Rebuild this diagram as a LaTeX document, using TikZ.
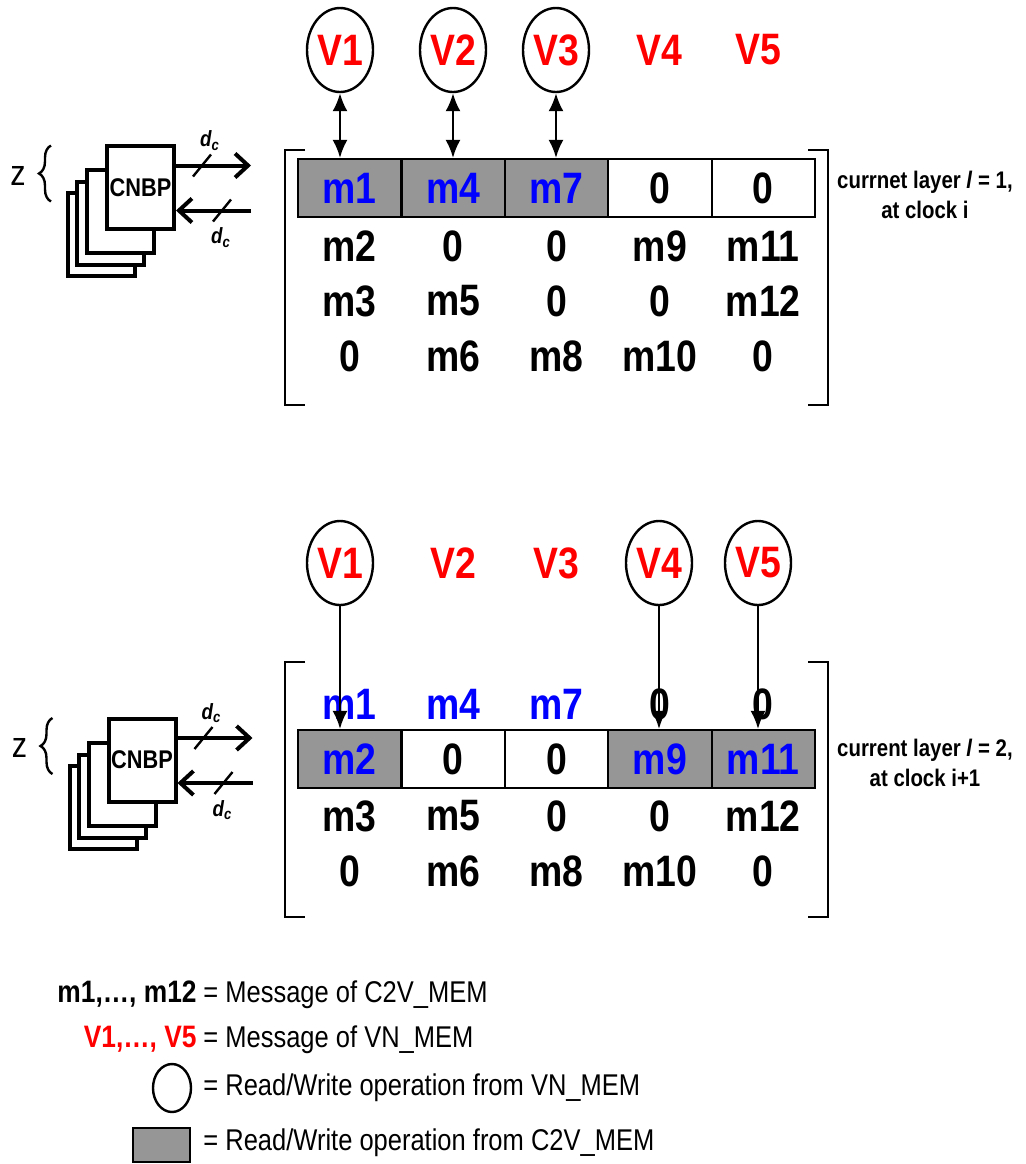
\documentclass[tikz,border=0pt]{standalone}
\usepackage{fontspec}
\setmainfont[FakeStretch=0.85]{Liberation Sans}
\usetikzlibrary{arrows.meta,positioning,calc,shapes.geometric,decorations.pathreplacing}
\definecolor{cVar} {RGB}{255,0,0}
\definecolor{cMsg} {RGB}{0,0,255}
\definecolor{cCell}{RGB}{150,150,150}
\tikzset{
  >={Latex[length=9pt,width=7.5pt]},
  vlab/.style={font=\fontsize{22}{24}\selectfont\bfseries,text=cVar,inner sep=0pt},
  vcirc/.style={vlab,draw,ellipse,line width=1.2pt,minimum width=33pt,minimum height=42pt},
  ent/.style={font=\fontsize{22}{24}\selectfont\bfseries,inner sep=0pt},
  entB/.style={ent,text=cMsg},
  cellA/.style={entB,draw,line width=1.1pt,fill=cCell,minimum width=51.7pt,minimum height=29pt},
  cellB/.style={ent,draw,line width=1.1pt,fill=white,minimum width=51.7pt,minimum height=29pt},
  rw/.style={line width=1.1pt},
  brk/.style={line width=1.1pt},
  pe/.style={draw,line width=2pt,fill=white,minimum width=33.5pt,minimum height=41.5pt,
             inner sep=0pt,font=\fontsize{12.8}{14}\selectfont\bfseries},% CNBP box
  bus/.style={line width=2pt,-{Straight Barb[length=6.5pt,width=12pt]}},
  slashmk/.style={line width=1.2pt},
  dclab/.style={font=\fontsize{11}{12}\selectfont\bfseries\itshape,inner sep=0pt},
  brc/.style={decorate,decoration={brace,amplitude=6pt},line width=1.2pt},
  zlab/.style={font=\fontsize{18}{20}\selectfont,inner sep=0pt},
  laylab/.style={font=\fontsize{12}{15}\selectfont\bfseries,align=center,inner sep=0pt},
  lgtxt/.style={font=\fontsize{15}{18}\selectfont,inner sep=0pt,anchor=west},
  lgkey/.style={font=\fontsize{15.5}{18}\selectfont\bfseries,inner sep=0pt,anchor=base east},
  lgcirc/.style={draw,ellipse,line width=1.2pt,minimum width=19pt,minimum height=24pt},
  lgcell/.style={draw,line width=1.1pt,fill=cCell,minimum width=28.5pt,minimum height=17pt},
}
\newcommand{\colx}[1]{298+103.4*(#1-0.5)}

\begin{document}
\begin{tikzpicture}[x=0.5pt,y=-0.5pt]
  \useasboundingbox (0,0) rectangle (1026,1164);

  % stack of CNBP units with their d_c buses
  \newcommand{\cnbp}[3]{%
    \foreach \dx/\dy [count=\k] in {-39/47,-30/36,-20/24}
      \node[pe] (#1b\k) at ($(#2,#3)+(\dx,\dy)$) {};
    \node[pe] (#1) at (#2,#3) {CNBP};
    \coordinate (#1o) at ($(#1.east)+(75,-22)$);
    \coordinate (#1i) at ($(#1.east)+(75,23)$);
    \draw[bus] (#1.east |- #1o) -- (#1o);
    \draw[bus] (#1i) -- (#1.east |- #1i);
    \draw[slashmk] ($(#1.east)+(26,-22)$) +(-9,11) -- +(9,-11);
    \draw[slashmk] ($(#1.east)+(46,23)$) +(-9,11) -- +(9,-11);
    \node[dclab] (#1d1) at ($(#1.east)+(34,-47)$) {d\textsubscript{c}};
    \node[dclab] (#1d2) at ($(#1.east)+(45,50)$) {d\textsubscript{c}};
    \draw[brc] ($(#1.west)+(-54,14)$) -- ($(#1.west)+(-54,-42)$);
    \node[zlab] (#1z) at ($(#1.west)+(-87,-12)$) {z};
  }

  % ---- layer 1, clock i
  \cnbp{ta}{140.5}{187.5}
  \foreach \i/\x/\s in {1/340/vcirc,2/453/vcirc,3/556/vcirc,4/659/vlab,5/758/vlab}
    \node[\s] (tv\i) at (\x,50) {V\i};
  \foreach \t/\s [count=\i] in {m1/cellA,m4/cellA,m7/cellA,0/cellB,0/cellB}
    \node[\s] (tc\i) at ({\colx{\i}},188) {\t};
  \foreach \t [count=\i] in {m2,0,0,m9,m11}
    \node[ent] (tr2\i) at ({\colx{\i}},246) {\t};
  \foreach \t [count=\i] in {m3,m5,0,0,m12}
    \node[ent] (tr3\i) at ({\colx{\i}},301) {\t};
  \foreach \t [count=\i] in {0,m6,m8,m10,0}
    \node[ent] (tr4\i) at ({\colx{\i}},356) {\t};
  \foreach \i in {1,2,3}
    \draw[rw,<->] (tv\i.south) -- (tv\i.south |- tc\i.north);
  \draw[brk] (305,150) -| (285,405) -- (305,405);
  \draw[brk] (808,150) -| (828,405) -- (808,405);
  \node[laylab] (tl) at (925,195) {currnet layer \textit{l} = 1,\\at clock i};

  % ---- layer 2, clock i+1
  \cnbp{ba}{142}{760}
  \foreach \i/\x/\s in {1/340/vcirc,2/453/vlab,3/556/vlab,4/659/vcirc,5/758/vcirc}
    \node[\s] (bv\i) at (\x,563) {V\i};
  \foreach \t/\s [count=\i] in {m1/entB,m4/entB,m7/entB,0/ent,0/ent}
    \node[\s] (br1\i) at ({\colx{\i}},704) {\t};
  \foreach \t/\s [count=\i] in {m2/cellA,0/cellB,0/cellB,m9/cellA,m11/cellA}
    \node[\s] (bc\i) at ({\colx{\i}},759) {\t};
  \foreach \t [count=\i] in {m3,m5,0,0,m12}
    \node[ent] (br3\i) at ({\colx{\i}},816) {\t};
  \foreach \t [count=\i] in {0,m6,m8,m10,0}
    \node[ent] (br4\i) at ({\colx{\i}},871) {\t};
  \foreach \i in {1,4,5}
    \draw[rw,->] (bv\i.south) -- (bv\i.south |- bc\i.north);
  \draw[brk] (305,662) -| (285,917) -- (305,917);
  \draw[brk] (808,662) -| (828,917) -- (808,917);
  \node[laylab] (bl) at (925,763) {current layer \textit{l} = 2,\\at clock i+1};

  % ---- legend
  \node[lgtxt] (lg1) at (203,995) {= Message of C2V\_MEM};
  \node[lgkey] (lk1) at ([xshift=-3pt]lg1.base west) {m1,…, m12};
  \node[lgtxt] (lg2) at (203,1040) {= Message of VN\_MEM};
  \node[lgkey,text=cVar] (lk2) at ([xshift=-3pt]lg2.base west) {V1,…, V5};
  \node[lgtxt] (lg3) at (203,1088) {= Read/Write operation from VN\_MEM};
  \node[lgcirc] (lk3) at (172,1088) {};
  \node[lgtxt] (lg4) at (203,1143) {= Read/Write operation from C2V\_MEM};
  \node[lgcell] (lk4) at (161.5,1145) {};
\end{tikzpicture}
\end{document}
